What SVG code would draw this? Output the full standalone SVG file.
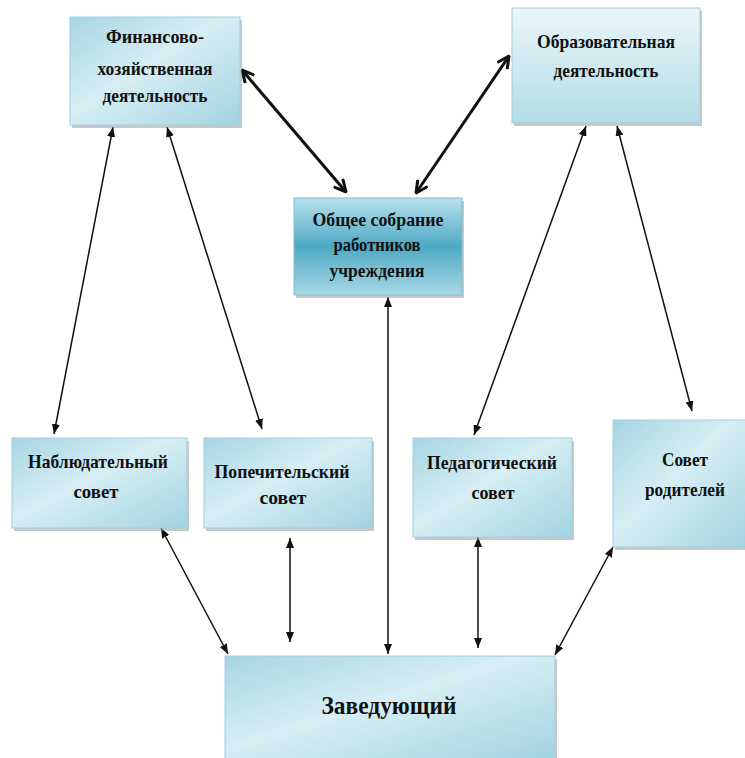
<svg xmlns="http://www.w3.org/2000/svg" width="745" height="758" viewBox="0 0 745 758">
<style>
.t{font-family:"Liberation Serif","Times New Roman",serif;font-weight:bold;font-size:19px;fill:#111;text-anchor:middle}
.big{font-size:25px}
.sh{fill:#9a9a9a;opacity:0.55}
.thin{stroke:#111;stroke-width:1.5;fill:none}
.thick{stroke:#111;stroke-width:3;fill:none}
</style>
<defs>
<linearGradient id="gd" x1="0" y1="0" x2="1" y2="1">
<stop offset="0" stop-color="#a6d5e3"/>
<stop offset="0.45" stop-color="#d7eef4"/>
<stop offset="1" stop-color="#a2d3e1"/>
</linearGradient>
<linearGradient id="gv" x1="0" y1="0" x2="0" y2="1">
<stop offset="0" stop-color="#eaf6f9"/>
<stop offset="1" stop-color="#b3dce7"/>
</linearGradient>
<linearGradient id="gt" x1="0" y1="0" x2="0" y2="1">
<stop offset="0" stop-color="#b8e1eb"/>
<stop offset="0.5" stop-color="#4ea9c4"/>
<stop offset="1" stop-color="#a9d8e5"/>
</linearGradient>
<marker id="a" viewBox="0 0 10 8" refX="10" refY="4" markerWidth="10" markerHeight="8" markerUnits="userSpaceOnUse" orient="auto-start-reverse">
<path d="M0,0 L10,4 L0,8 Z" fill="#111"/>
</marker>
<marker id="b" viewBox="0 0 14 14" refX="13" refY="7" markerWidth="14" markerHeight="14" markerUnits="userSpaceOnUse" orient="auto-start-reverse">
<path d="M1,1 L13,7 L1,13" fill="none" stroke="#111" stroke-width="3" stroke-linejoin="miter"/>
</marker>
</defs>

<g id="connectors">
<line class="thick" x1="242" y1="70" x2="346" y2="192" marker-start="url(#b)" marker-end="url(#b)"/>
<line class="thick" x1="509" y1="56" x2="416" y2="193" marker-start="url(#b)" marker-end="url(#b)"/>
<line class="thin" x1="113" y1="127" x2="54" y2="434" marker-start="url(#a)" marker-end="url(#a)"/>
<line class="thin" x1="167" y1="127" x2="262" y2="429" marker-start="url(#a)" marker-end="url(#a)"/>
<line class="thin" x1="586" y1="126" x2="474" y2="435" marker-start="url(#a)" marker-end="url(#a)"/>
<line class="thin" x1="617" y1="126" x2="692" y2="411" marker-start="url(#a)" marker-end="url(#a)"/>
<line class="thin" x1="388" y1="297" x2="388" y2="654" marker-start="url(#a)" marker-end="url(#a)"/>
<line class="thin" x1="161" y1="528" x2="228" y2="654" marker-start="url(#a)" marker-end="url(#a)"/>
<line class="thin" x1="290" y1="538" x2="290" y2="642" marker-start="url(#a)" marker-end="url(#a)"/>
<line class="thin" x1="478" y1="537" x2="478" y2="648" marker-start="url(#a)" marker-end="url(#a)"/>
<line class="thin" x1="613" y1="547" x2="555" y2="655" marker-start="url(#a)" marker-end="url(#a)"/>
</g>

<g id="fin">
<rect class="sh" x="72" y="20" width="170" height="108"/>
<rect x="70" y="17" width="170" height="108" fill="url(#gd)" stroke="#9fd0de" stroke-width="1"/>
<text class="t" x="155" y="43" textLength="98" lengthAdjust="spacingAndGlyphs">Финансово-</text>
<text class="t" x="155" y="75" textLength="115" lengthAdjust="spacingAndGlyphs">хозяйственная</text>
<text class="t" x="155" y="102" textLength="105" lengthAdjust="spacingAndGlyphs">деятельность</text>
</g>

<g id="obr">
<rect class="sh" x="514" y="11" width="188" height="115"/>
<rect x="512" y="8" width="188" height="115" fill="url(#gv)" stroke="#9fd0de" stroke-width="1"/>
<text class="t" x="606" y="48" textLength="138" lengthAdjust="spacingAndGlyphs">Образовательная</text>
<text class="t" x="606" y="77" textLength="105" lengthAdjust="spacingAndGlyphs">деятельность</text>
</g>

<g id="obsh">
<rect class="sh" x="296" y="201" width="168" height="97"/>
<rect x="294" y="198" width="168" height="97" fill="url(#gt)" stroke="#7fc0d3" stroke-width="1"/>
<text class="t" x="378" y="226" textLength="131" lengthAdjust="spacingAndGlyphs">Общее собрание</text>
<text class="t" x="377" y="251" textLength="87" lengthAdjust="spacingAndGlyphs">работников</text>
<text class="t" x="377" y="277" textLength="95" lengthAdjust="spacingAndGlyphs">учреждения</text>
</g>

<g id="nabl">
<rect class="sh" x="14" y="441" width="175" height="90"/>
<rect x="12" y="438" width="175" height="90" fill="url(#gd)" stroke="#9fd0de" stroke-width="1"/>
<text class="t" x="98" y="468" textLength="140" lengthAdjust="spacingAndGlyphs">Наблюдательный</text>
<text class="t" x="96" y="498" textLength="45" lengthAdjust="spacingAndGlyphs">совет</text>
</g>

<g id="pop">
<rect class="sh" x="206" y="441" width="168" height="90"/>
<rect x="204" y="438" width="168" height="90" fill="url(#gd)" stroke="#9fd0de" stroke-width="1"/>
<text class="t" x="282" y="478" textLength="135" lengthAdjust="spacingAndGlyphs">Попечительский</text>
<text class="t" x="283" y="504" textLength="47" lengthAdjust="spacingAndGlyphs">совет</text>
</g>

<g id="ped">
<rect class="sh" x="415" y="441" width="159" height="99"/>
<rect x="413" y="438" width="159" height="99" fill="url(#gd)" stroke="#9fd0de" stroke-width="1"/>
<text class="t" x="492" y="469" textLength="130" lengthAdjust="spacingAndGlyphs">Педагогический</text>
<text class="t" x="493" y="499" textLength="43" lengthAdjust="spacingAndGlyphs">совет</text>
</g>

<g id="rod">
<rect class="sh" x="615" y="423" width="132" height="127"/>
<rect x="613" y="420" width="134" height="127" fill="url(#gd)" stroke="#9fd0de" stroke-width="1"/>
<text class="t" x="685" y="466" textLength="46" lengthAdjust="spacingAndGlyphs">Совет</text>
<text class="t" x="685" y="496" textLength="80" lengthAdjust="spacingAndGlyphs">родителей</text>
</g>

<g id="zav">
<rect class="sh" x="227" y="659" width="330" height="102"/>
<rect x="225" y="656" width="330" height="104" fill="url(#gd)" stroke="#9fd0de" stroke-width="1"/>
<text class="t big" x="389" y="714" textLength="135" lengthAdjust="spacingAndGlyphs">Заведующий</text>
</g>
</svg>
